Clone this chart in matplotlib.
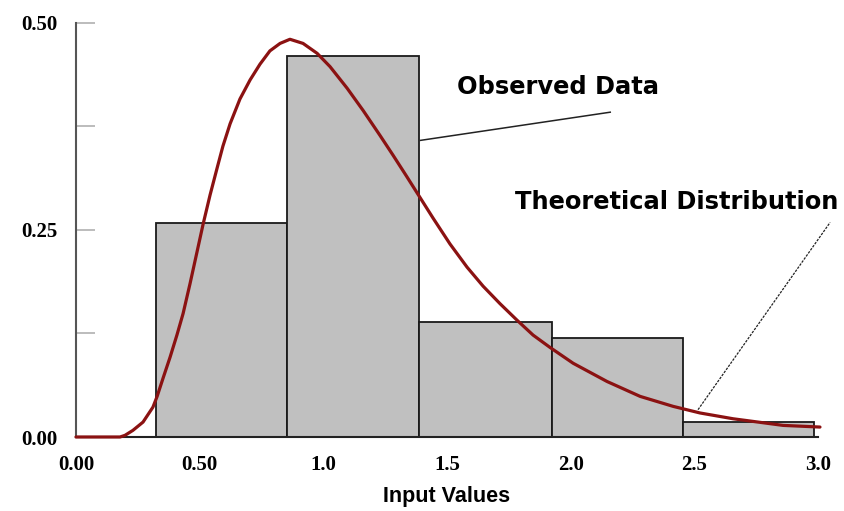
import matplotlib.pyplot as plt
import numpy as np

# histogram of observed data
bin_edges = [0.323, 0.853, 1.387, 1.925, 2.455, 2.984]
bar_heights = [0.258, 0.460, 0.139, 0.119, 0.018]

# theoretical curve
curve_x = [0.000, 0.178, 0.198, 0.230, 0.271, 0.311, 0.328, 0.352, 0.380,
           0.408, 0.433, 0.461, 0.489, 0.514, 0.542, 0.570, 0.594, 0.623,
           0.663, 0.704, 0.744, 0.784, 0.825, 0.865, 0.918, 0.975, 1.027,
           1.096, 1.161, 1.229, 1.282, 1.338, 1.391, 1.444, 1.512, 1.581,
           1.646, 1.714, 1.783, 1.848, 1.917, 2.010, 2.147, 2.281, 2.414,
           2.523, 2.657, 2.859, 3.008]
curve_y = [0.000, 0.000, 0.002, 0.008, 0.018, 0.036, 0.049, 0.071, 0.096,
           0.123, 0.149, 0.185, 0.223, 0.257, 0.292, 0.324, 0.351, 0.378,
           0.408, 0.431, 0.450, 0.466, 0.475, 0.480, 0.475, 0.463, 0.447,
           0.421, 0.394, 0.364, 0.340, 0.314, 0.289, 0.264, 0.233, 0.205,
           0.182, 0.161, 0.141, 0.123, 0.108, 0.089, 0.067, 0.049, 0.037,
           0.029, 0.022, 0.014, 0.012]

x_ticks = [0.0, 0.5, 1.0, 1.5, 2.0, 2.5, 3.0]
x_labels = ['0.00', '0.50', '1.0', '1.5', '2.0', '2.5', '3.0']
y_ticks = [0.0, 0.25, 0.5]
y_labels = ['0.00', '0.25', '0.50']

fig = plt.figure(figsize=(8.45, 5.11), dpi=100)
ax = fig.add_axes([76 / 845, 74 / 511, 742 / 845, 414.3 / 511])

lefts = bin_edges[:-1]
widths = np.diff(bin_edges)
ax.bar(lefts, bar_heights, width=widths, align='edge', color='#c0c0c0',
       edgecolor='#1a1a1a', linewidth=1.3, zorder=2)
ax.plot(curve_x, curve_y, color='#8b1212', linewidth=2.3, zorder=3,
        solid_capstyle='round', solid_joinstyle='round', clip_on=False)

ax.set_xlim(0, 3.0)
ax.set_ylim(0, 0.5)
for s in ['top', 'right']:
    ax.spines[s].set_visible(False)
ax.spines['left'].set_color('#555555')
ax.spines['left'].set_linewidth(1.5)
ax.spines['bottom'].set_color('#222222')
ax.spines['bottom'].set_linewidth(1.5)

ax.set_xticks(x_ticks)
ax.set_xticklabels(x_labels, fontfamily='Liberation Serif', fontweight='bold',
                   fontsize=15)
ax.tick_params(axis='x', length=0, pad=13)
ax.set_yticks(y_ticks)
ax.set_yticklabels(y_labels, fontfamily='Liberation Serif', fontweight='bold',
                   fontsize=15)
ax.set_yticks([0.125, 0.375], minor=True)
ax.tick_params(axis='y', which='both', direction='in', length=14, width=1.2,
               color='#b0b0b0', pad=13)

ax.set_xlabel('Input Values', fontfamily='Liberation Sans', fontweight='bold',
              fontsize=15.5, labelpad=8)

# callouts
ax.text(1.54, 0.422, 'Observed Data', fontfamily='DejaVu Sans',
        fontweight='bold', fontsize=17.4, va='center', ha='left')
ax.plot([1.393, 2.16], [0.358, 0.392], color='#222222', linewidth=1.1)
ax.text(1.775, 0.284, 'Theoretical Distribution', fontfamily='DejaVu Sans',
        fontweight='bold', fontsize=17.4, va='center', ha='left')
ax.plot([2.515, 3.049], [0.033, 0.259], color='#222222', linewidth=0.9,
        linestyle=(0, (2, 1)), clip_on=False)

fig.savefig('out.png', dpi=100)
